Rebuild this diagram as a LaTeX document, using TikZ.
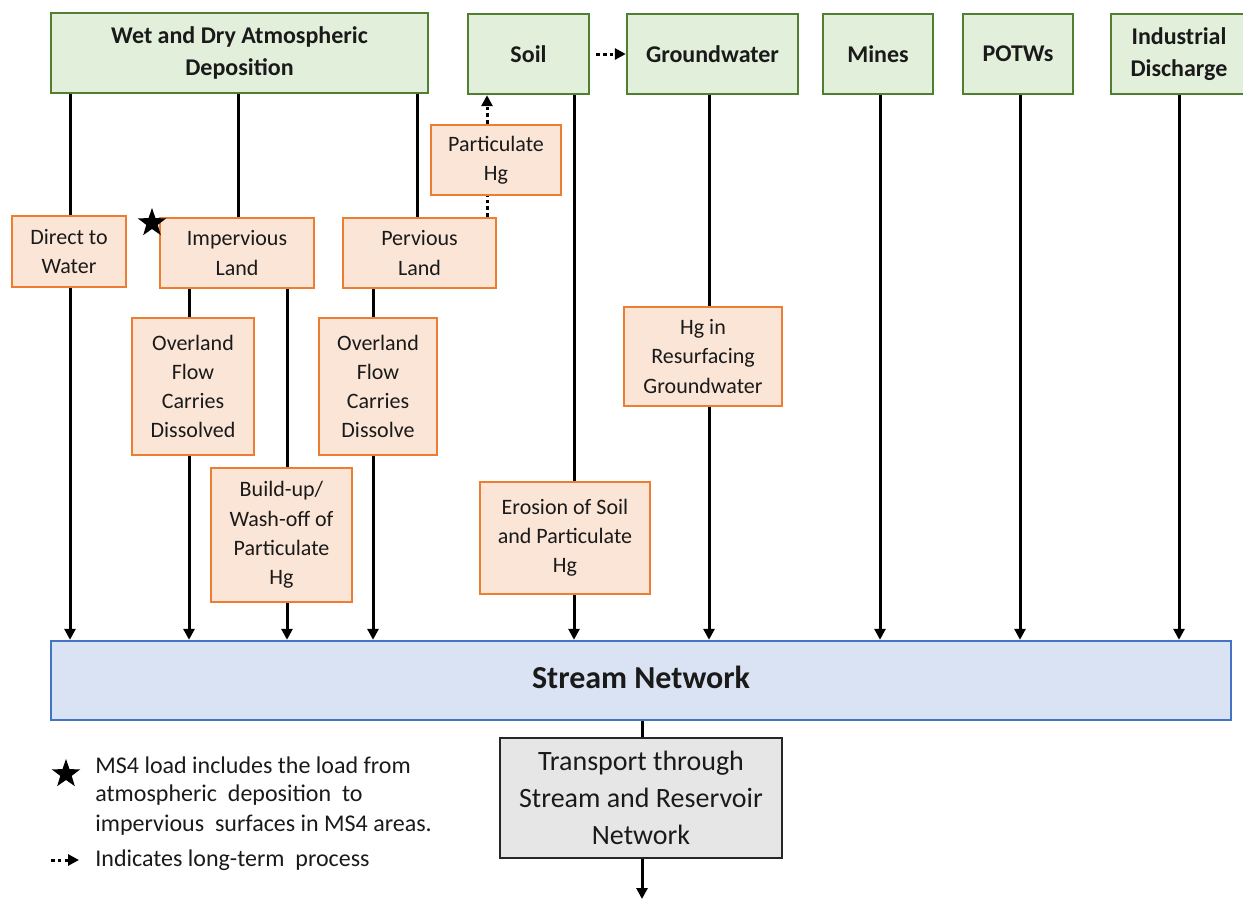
\documentclass[tikz,border=0pt]{standalone}
\usepackage{fontspec}
\setmainfont{Carlito}
\usetikzlibrary{arrows.meta,shapes.geometric}
\definecolor{gfill}{HTML}{E2EFDA}
\definecolor{gdraw}{HTML}{507E32}
\definecolor{ofill}{HTML}{FBE5D6}
\definecolor{odraw}{HTML}{ED7D31}
\definecolor{bfill}{HTML}{DAE3F3}
\definecolor{bdraw}{HTML}{4472C4}
\definecolor{tfill}{HTML}{E7E6E6}
\definecolor{tdraw}{HTML}{262626}
\definecolor{txt}{HTML}{1A1A1A}
\tikzset{
  src/.style={draw=gdraw,fill=gfill,line width=1.2pt,align=center,inner sep=0pt,
    font=\fontsize{12}{16}\selectfont\bfseries,text=txt},
  proc/.style={draw=odraw,fill=ofill,line width=1.2pt,align=center,inner sep=0pt,
    font=\fontsize{11}{14.6}\selectfont,text=txt},
  flow/.style={line width=1.5pt,-{Triangle[length=5.5pt,width=5.5pt]}},
  link/.style={line width=1.5pt},
  longterm/.style={line width=1.5pt,dash pattern=on 1.8pt off 1.6pt,-{Triangle[length=5.5pt,width=5.5pt]}},
  longline/.style={line width=1.5pt,dash pattern=on 1.8pt off 1.6pt},
  legtext/.style={anchor=west,inner sep=0pt,font=\fontsize{12}{15}\selectfont,text=txt},
  starmark/.style={star,star points=5,star point ratio=2.5,fill=black,inner sep=0pt,minimum size=15pt}
}
\begin{document}
\begin{tikzpicture}[x=0.5pt,y=-0.5pt]
\useasboundingbox (0,0) rectangle (1243,901);
\clip (0,0) rectangle (1243,901);
% sources
\node[src,minimum width=188.5pt,minimum height=40pt] (atm) at (239.5,53) {Wet and Dry Atmospheric\\Deposition};
\node[src,minimum width=60.5pt,minimum height=40pt] (soil) at (528.5,54) {Soil};
\node[src,minimum width=85.5pt,minimum height=40pt] (gw) at (712.5,54) {Groundwater};
\node[src,minimum width=55pt,minimum height=40pt] (mines) at (878,54) {Mines};
\node[src,minimum width=55pt,minimum height=40pt] (potw) at (1018,54) {POTWs};
\node[src,minimum width=68pt,minimum height=40pt] (ind) at (1179,54) {Industrial\\Discharge};
% processes
\node[proc,minimum width=57pt,minimum height=35.5pt] (direct) at (69,251.5) {Direct to\\Water};
\node[proc,minimum width=77pt,minimum height=35pt] (imp) at (237,253) {Impervious\\Land};
\node[proc,minimum width=76.5pt,minimum height=35pt] (perv) at (419.5,253) {Pervious\\Land};
\node[proc,minimum width=65pt,minimum height=35pt] (part) at (496,160) {Particulate\\Hg};
\node[proc,minimum width=61pt,minimum height=68.5pt] (overl) at (193,386.5) {Overland\\Flow\\Carries\\Dissolved};
\node[proc,minimum width=59pt,minimum height=68.5pt] (overr) at (378,386.5) {Overland\\Flow\\Carries\\Dissolve};
\node[proc,minimum width=70.5pt,minimum height=67pt] (build) at (281.5,535) {Build-up/\\Wash-off of\\Particulate\\Hg};
\node[proc,minimum width=85pt,minimum height=56pt] (eros) at (565,538) {Erosion of Soil\\and Particulate\\Hg};
\node[proc,minimum width=79pt,minimum height=49.5pt] (resurf) at (703,356.5) {Hg in\\Resurfacing\\Groundwater};
% stream and transport
\node[draw=bdraw,fill=bfill,line width=1.2pt,minimum width=590pt,minimum height=39.5pt,inner sep=0pt,
  font=\fontsize{16}{19}\selectfont\bfseries,text=txt] (stream) at (641,680.5) {\raisebox{3pt}{Stream Network}};
\node[draw=tdraw,fill=tfill,line width=1.2pt,minimum width=141pt,minimum height=60pt,inner sep=0pt,align=center,
  font=\fontsize{14}{18.5}\selectfont,text=txt] (trans) at (641,798) {Transport through\\Stream and Reservoir\\Network};
% x positions
\coordinate (x70) at (70,0);
\coordinate (x189) at (189,0);
\coordinate (x238) at (238,0);
\coordinate (x287) at (287,0);
\coordinate (x373) at (373,0);
\coordinate (x417) at (417,0);
\coordinate (x487) at (487,0);
\coordinate (x574) at (574,0);
\coordinate (x709) at (709,0);
\coordinate (x880) at (880,0);
\coordinate (x1020) at (1020,0);
\coordinate (x1179) at (1179,0);
\coordinate (x642) at (642,0);
\coordinate (outlet) at (642,899);
% connectors
\draw[link] (atm.south -| x70) -- (direct.north -| x70);
\draw[flow] (direct.south -| x70) -- (stream.north -| x70);
\draw[link] (atm.south -| x238) -- (imp.north -| x238);
\draw[link] (atm.south -| x417) -- (perv.north -| x417);
\draw[link] (imp.south -| x189) -- (overl.north -| x189);
\draw[flow] (overl.south -| x189) -- (stream.north -| x189);
\draw[link] (imp.south -| x287) -- (build.north -| x287);
\draw[flow] (build.south -| x287) -- (stream.north -| x287);
\draw[link] (perv.south -| x373) -- (overr.north -| x373);
\draw[flow] (overr.south -| x373) -- (stream.north -| x373);
\draw[longline] (perv.north -| x487) -- (part.south -| x487);
\draw[longterm] (part.north -| x487) -- (soil.south -| x487);
\draw[longterm] (soil.east) ++(6,0) coordinate (se) (se) -- (gw.west);
\draw[link] (soil.south -| x574) -- (eros.north -| x574);
\draw[flow] (eros.south -| x574) -- (stream.north -| x574);
\draw[link] (gw.south -| x709) -- (resurf.north -| x709);
\draw[flow] (resurf.south -| x709) -- (stream.north -| x709);
\draw[flow] (mines.south -| x880) -- (stream.north -| x880);
\draw[flow] (potw.south -| x1020) -- (stream.north -| x1020);
\draw[flow] (ind.south -| x1179) -- (stream.north -| x1179);
\draw[link] (stream.south -| x642) -- (trans.north -| x642);
\draw[flow] (trans.south -| x642) -- (outlet);
% star
\node[starmark] (star1) at (152,223) {};
% legend
\node[starmark] (star2) at (66,774) {};
\node[legtext] (leg1) at (95,765) {MS4 load includes the load from};
\node[legtext] (leg2) at (95,795) {atmospheric\ \ deposition\ \ to};
\node[legtext] (leg3) at (95,825) {impervious\ \ surfaces in MS4 areas.};
\coordinate (la) at (51,860);
\coordinate (lb) at (79,860);
\draw[longterm] (la) -- (lb);
\node[legtext] (leg4) at (95,860) {Indicates long-term\ \ process};
\end{tikzpicture}
\end{document}
